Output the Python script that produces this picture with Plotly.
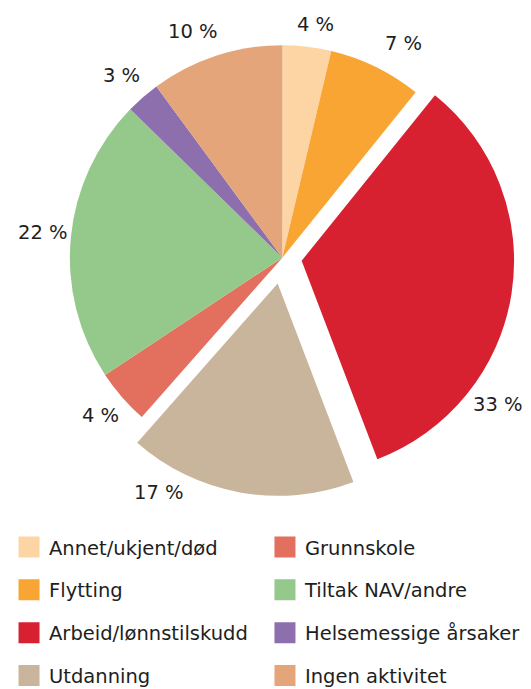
import math

import plotly.graph_objects as go

# slices clockwise from 12 o'clock (share in percent)
categories = [
    "Annet/ukjent/død",
    "Flytting",
    "Arbeid/lønnstilskudd",
    "Utdanning",
    "Grunnskole",
    "Tiltak NAV/andre",
    "Helsemessige årsaker",
    "Ingen aktivitet",
]
shares = [3.7, 7.1, 33.4, 17.3, 4.2, 21.6, 2.6, 10.1]
colors = ["#FDD5A5", "#F9A533", "#D72130", "#C9B59B", "#E36F5E", "#95C88B", "#8E6FAE", "#E4A57A"]
pulls = [0, 0, 0.092, 0.123, 0, 0, 0, 0]

# label placement: angular nudge (deg) and distance from slice centre (in pie radii)
label_shift = [1.5, 3.4, 27.3, 19.4, 0.2, 0.5, -0.4, -3.3]
label_dist = [1.11, 1.16, 1.145, 1.13, 1.133, 1.132, 1.147, 1.146]

# legend columns as laid out under the pie
legend_col1 = ["Annet/ukjent/død", "Flytting", "Arbeid/lønnstilskudd", "Utdanning"]
legend_col2 = ["Grunnskole", "Tiltak NAV/andre", "Helsemessige årsaker", "Ingen aktivitet"]

W, H = 531, 689
FONT = "DejaVu Sans, Verdana, sans-serif"
TEXT = "#1e1e1e"
DOM_X = [0.0824, 0.981]
DOM_Y = [0.2797, 0.9723]

fig = go.Figure()

fig.add_trace(
    go.Pie(
        labels=categories,
        values=shares,
        sort=False,
        direction="clockwise",
        rotation=0,
        pull=pulls,
        marker={"colors": colors, "line": {"width": 0}},
        textinfo="none",
        hoverinfo="label+percent",
        showlegend=False,
        domain={"x": DOM_X, "y": DOM_Y},
    )
)

# percent labels, placed with the same centre / radius rule plotly uses for the pie
cx = W * (DOM_X[0] + DOM_X[1]) / 2
cy = H * (1 - (DOM_Y[0] + DOM_Y[1]) / 2)
r = min(W * (DOM_X[1] - DOM_X[0]), H * (DOM_Y[1] - DOM_Y[0])) / 2 / (1 + max(pulls))
total = sum(shares)
cum = 0.0
for v, pull, shift, dist in zip(shares, pulls, label_shift, label_dist):
    mid = 2 * math.pi * (cum + v / 2) / total
    cum += v
    sx = cx + pull * r * math.sin(mid)
    sy = cy - pull * r * math.cos(mid)
    a = mid + math.radians(shift)
    lx = sx + dist * r * math.sin(a)
    ly = sy - dist * r * math.cos(a)
    fig.add_annotation(
        x=lx / W, y=1 - ly / H, xref="paper", yref="paper",
        text=f"{v:.0f} %", showarrow=False, xanchor="center", yanchor="middle",
        font={"family": FONT, "size": 19.5, "color": TEXT},
    )

# legend proxies, one legendgroup each so tracegroupgap spaces the rows
col_of = {name: "legend" for name in legend_col1}
col_of.update({name: "legend2" for name in legend_col2})
for name in legend_col1 + legend_col2:
    col = colors[categories.index(name)]
    fig.add_trace(
        go.Scatter(
            x=[None], y=[None], mode="markers", name=name,
            marker={"color": col, "size": 16, "symbol": "square", "line": {"color": col, "width": 5}},
            legend=col_of[name], legendgroup=name,
        )
    )

leg_common = {
    "orientation": "v",
    "xanchor": "left",
    "yanchor": "top",
    "y": 0.234,
    "font": {"family": FONT, "size": 19.5, "color": TEXT},
    "tracegroupgap": 14.5,
    "bgcolor": "rgba(0,0,0,0)",
    "itemclick": False,
}

fig.update_layout(
    width=W,
    height=H,
    paper_bgcolor="white",
    plot_bgcolor="white",
    margin={"l": 0, "r": 0, "t": 0, "b": 0, "autoexpand": False},
    xaxis={"visible": False},
    yaxis={"visible": False},
    legend={**leg_common, "x": 0.017},
    legend2={**leg_common, "x": 0.499},
)

fig.write_html(
    "out.html",
    config={"displayModeBar": False},
    post_script="document.body.style.margin='0';",
)
